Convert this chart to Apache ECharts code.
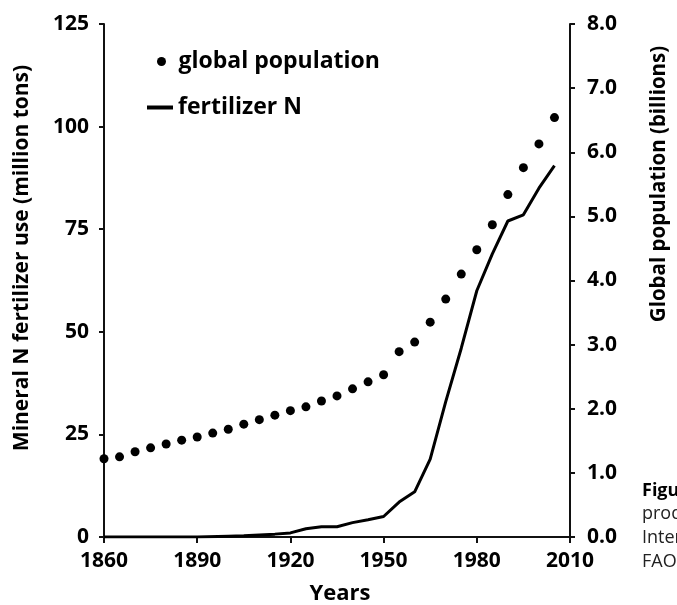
<!DOCTYPE html>
<html><head><meta charset="utf-8">
<script src="https://cdn.jsdelivr.net/npm/echarts@6/dist/echarts.min.js"></script>
<style>html,body{margin:0;padding:0;background:#fff}#c{width:677px;height:605px}</style>
</head><body><div id="c"></div>
<script>
var popYears = [1860,1865,1870,1875,1880,1885,1890,1895,1900,1905,1910,1915,1920,1925,1930,1935,1940,1945,1950,1955,1960,1965,1970,1975,1980,1985,1990,1995,2000,2005];
var population = [1.22,1.25,1.33,1.39,1.45,1.51,1.56,1.62,1.68,1.76,1.83,1.90,1.97,2.03,2.12,2.20,2.31,2.42,2.53,2.89,3.04,3.35,3.71,4.10,4.48,4.87,5.34,5.76,6.13,6.54];
var fertYears = [1860,1870,1880,1890,1900,1905,1910,1915,1920,1925,1930,1935,1940,1945,1950,1955,1960,1965,1970,1975,1980,1985,1990,1995,2000,2005];
var fertilizer = [0,0,0,0,0.2,0.3,0.5,0.7,1.0,2.0,2.5,2.5,3.5,4.2,5.0,8.5,11,19,33,46,60,69,77,78.5,85,90.5];
var xTicks = [1860,1890,1920,1950,1980,2010];

var font = '"Open Sans", sans-serif';
var chart = echarts.init(document.getElementById('c'));
chart.setOption({
  animation:false,
  backgroundColor:'#fff',
  grid:{left:104,right:107,top:24,bottom:68},
  legend:[
    {data:['global population'],orient:'vertical',left:157,top:50,padding:0,icon:'circle',itemWidth:24,itemHeight:9,
     textStyle:{fontFamily:font,fontWeight:'bold',fontSize:23,color:'#000'}},
    {data:['fertilizer N'],orient:'vertical',left:147,top:96,padding:0,icon:'rect',itemWidth:26,itemHeight:4,
     textStyle:{fontFamily:font,fontWeight:'bold',fontSize:23,color:'#000'}}
  ],
  xAxis:{type:'value',min:xTicks[0],max:xTicks[xTicks.length-1],interval:30,
    axisLine:{lineStyle:{color:'#111',width:2}},
    axisTick:{show:true,length:6,lineStyle:{color:'#111',width:2}},
    splitLine:{show:false},
    axisLabel:{color:'#000',fontFamily:font,fontWeight:'bold',fontSize:21,margin:14,
      formatter:function(v){return String(v);}}},
  yAxis:[
    {type:'value',min:0,max:125,interval:25,position:'left',
     axisLine:{show:true,lineStyle:{color:'#111',width:2}},
     axisTick:{show:true,length:5,lineStyle:{color:'#111',width:2}},
     splitLine:{show:false},
     axisLabel:{color:'#000',fontFamily:font,fontWeight:'bold',fontSize:21,margin:15}},
    {type:'value',min:0,max:8,interval:1,position:'right',
     axisLine:{show:true,lineStyle:{color:'#111',width:2}},
     axisTick:{show:true,length:5,lineStyle:{color:'#111',width:2}},
     splitLine:{show:false},
     axisLabel:{color:'#000',fontFamily:font,fontWeight:'bold',fontSize:21,margin:17,
       formatter:function(v){return v.toFixed(1);}}}
  ],
  series:[
    {name:'global population',type:'scatter',yAxisIndex:1,symbolSize:9,
     itemStyle:{color:'#000',opacity:1},
     data:popYears.map(function(y,i){return [y,population[i]];})},
    {name:'fertilizer N',type:'line',yAxisIndex:0,showSymbol:false,symbol:'none',
     lineStyle:{color:'#000',width:3},itemStyle:{color:'#000'},
     data:fertYears.map(function(y,i){return [y,fertilizer[i]];})}
  ],
  graphic:[
    {type:'text',x:340,y:594,style:{text:'Years',fontFamily:font,fontWeight:'bold',fontSize:22,fill:'#000',align:'center',verticalAlign:'middle'}},
    {type:'text',x:22,y:258,rotation:Math.PI/2,style:{text:'Mineral N fertilizer use (million tons)',fontFamily:font,fontWeight:'bold',fontSize:21,fill:'#000',align:'center',verticalAlign:'middle'}},
    {type:'text',x:659,y:184,rotation:Math.PI/2,style:{text:'Global population (billions)',fontFamily:font,fontWeight:'bold',fontSize:20.5,fill:'#000',align:'center',verticalAlign:'middle'}},
    {type:'text',x:642,y:491,style:{text:'Figure',fontFamily:font,fontWeight:'bold',fontSize:18,fill:'#000',verticalAlign:'middle'}},
    {type:'text',x:642,y:514,style:{text:'produced',fontFamily:font,fontSize:18,fill:'#222',verticalAlign:'middle'}},
    {type:'text',x:642,y:538,style:{text:'International',fontFamily:font,fontSize:18,fill:'#222',verticalAlign:'middle'}},
    {type:'text',x:642,y:562,style:{text:'FAO',fontFamily:font,fontSize:18,fill:'#222',verticalAlign:'middle'}}
  ]
});
</script></body></html>
